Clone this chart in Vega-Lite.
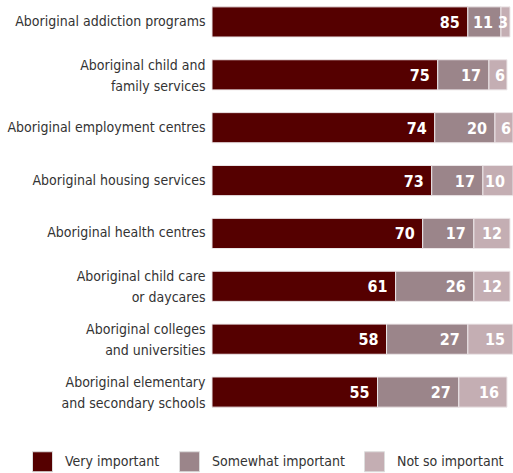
{
  "$schema": "https://vega.github.io/schema/vega-lite/v6.json",
  "autosize": "none",
  "width": 301,
  "height": 414,
  "padding": {"left": 212, "top": 0, "right": 0, "bottom": 59},
  "background": "white",
  "config": {
    "view": {"stroke": null},
    "font": "DejaVu Sans Condensed, Liberation Sans, sans-serif"
  },
  "data": {
    "values": [
      {"category": "Aboriginal addiction programs", "response": "Very important", "order": 1, "value": 85},
      {"category": "Aboriginal addiction programs", "response": "Somewhat important", "order": 2, "value": 11},
      {"category": "Aboriginal addiction programs", "response": "Not so important", "order": 3, "value": 3},
      {"category": "Aboriginal child and|family services", "response": "Very important", "order": 1, "value": 75},
      {"category": "Aboriginal child and|family services", "response": "Somewhat important", "order": 2, "value": 17},
      {"category": "Aboriginal child and|family services", "response": "Not so important", "order": 3, "value": 6},
      {"category": "Aboriginal employment centres", "response": "Very important", "order": 1, "value": 74},
      {"category": "Aboriginal employment centres", "response": "Somewhat important", "order": 2, "value": 20},
      {"category": "Aboriginal employment centres", "response": "Not so important", "order": 3, "value": 6},
      {"category": "Aboriginal housing services", "response": "Very important", "order": 1, "value": 73},
      {"category": "Aboriginal housing services", "response": "Somewhat important", "order": 2, "value": 17},
      {"category": "Aboriginal housing services", "response": "Not so important", "order": 3, "value": 10},
      {"category": "Aboriginal health centres", "response": "Very important", "order": 1, "value": 70},
      {"category": "Aboriginal health centres", "response": "Somewhat important", "order": 2, "value": 17},
      {"category": "Aboriginal health centres", "response": "Not so important", "order": 3, "value": 12},
      {"category": "Aboriginal child care|or daycares", "response": "Very important", "order": 1, "value": 61},
      {"category": "Aboriginal child care|or daycares", "response": "Somewhat important", "order": 2, "value": 26},
      {"category": "Aboriginal child care|or daycares", "response": "Not so important", "order": 3, "value": 12},
      {"category": "Aboriginal colleges|and universities", "response": "Very important", "order": 1, "value": 58},
      {"category": "Aboriginal colleges|and universities", "response": "Somewhat important", "order": 2, "value": 27},
      {"category": "Aboriginal colleges|and universities", "response": "Not so important", "order": 3, "value": 15},
      {"category": "Aboriginal elementary|and secondary schools", "response": "Very important", "order": 1, "value": 55},
      {"category": "Aboriginal elementary|and secondary schools", "response": "Somewhat important", "order": 2, "value": 27},
      {"category": "Aboriginal elementary|and secondary schools", "response": "Not so important", "order": 3, "value": 16}
    ]
  },
  "transform": [
    {"stack": "value", "groupby": ["category"], "sort": [{"field": "order"}], "as": ["x0", "x1"]}
  ],
  "encoding": {
    "y": {
      "field": "category",
      "type": "nominal",
      "sort": null,
      "scale": {"paddingInner": 0.43, "paddingOuter": 0.13},
      "axis": {
        "title": null,
        "domain": false,
        "ticks": false,
        "labelPadding": 7,
        "labelFontSize": 14,
        "labelColor": "#333333",
        "labelLineHeight": 21,
        "labelLimit": 0,
        "labelOffset": {"condition": {"test": "indexof(datum.value, '|') >= 0", "value": -9}, "value": 0},
        "labelExpr": "split(datum.value, '|')"
      }
    }
  },
  "layer": [
    {
      "mark": {"type": "bar", "stroke": "#ece6e8", "strokeWidth": 1},
      "encoding": {
        "x": {"field": "x0", "type": "quantitative", "scale": {"domain": [0, 100]}, "axis": null},
        "x2": {"field": "x1"},
        "color": {
          "field": "response",
          "type": "nominal",
          "sort": ["Very important", "Somewhat important", "Not so important"],
          "scale": {
            "domain": ["Very important", "Somewhat important", "Not so important"],
            "range": ["#550000", "#9b858a", "#c4aeb3"]
          },
          "legend": {
            "title": null,
            "orient": "none",
            "legendX": -180,
            "legendY": 451,
            "direction": "horizontal",
            "symbolType": "square",
            "symbolSize": 400,
            "symbolStrokeColor": "#dddddd",
            "symbolStrokeWidth": 1,
            "labelFontSize": 14,
            "labelColor": "#333333",
            "labelOffset": 12,
            "columnPadding": 17,
            "padding": 0,
            "labelLimit": 0
          }
        }
      }
    },
    {
      "transform": [{"filter": "datum.value >= 10"}],
      "mark": {"type": "text", "align": "right", "baseline": "middle", "dx": -8, "dy": 1, "color": "white", "fontSize": 16, "fontWeight": "bold"},
      "encoding": {
        "x": {"field": "x1", "type": "quantitative"},
        "text": {"field": "value", "type": "quantitative"}
      }
    },
    {
      "transform": [{"filter": "datum.value < 10"}],
      "mark": {"type": "text", "align": "right", "baseline": "middle", "dx": -2, "dy": 1, "color": "white", "fontSize": 16, "fontWeight": "bold"},
      "encoding": {
        "x": {"field": "x1", "type": "quantitative"},
        "text": {"field": "value", "type": "quantitative"}
      }
    }
  ]
}
